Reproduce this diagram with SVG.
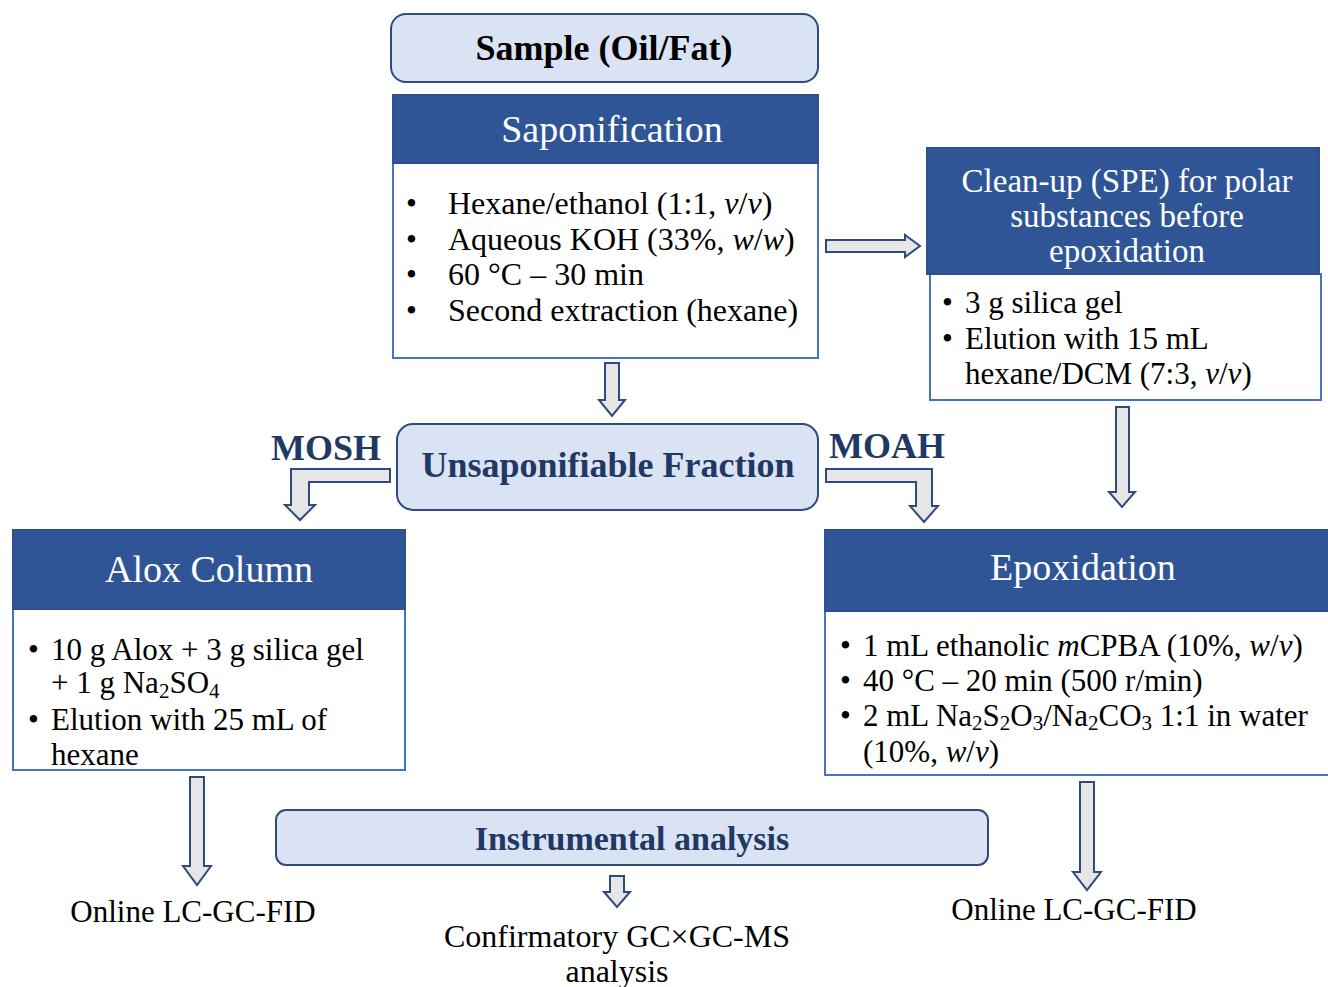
<svg xmlns="http://www.w3.org/2000/svg" width="1328" height="987" viewBox="0 0 1328 987">
<style>
.t{font-family:"Liberation Serif","Times New Roman",serif;fill:#000;font-size:31px}
.hd{font-family:"Liberation Serif","Times New Roman",serif;fill:#fff;font-size:38px;text-anchor:middle}
.hd2{font-family:"Liberation Serif","Times New Roman",serif;fill:#fff;font-size:33px;text-anchor:middle}
.nv{font-family:"Liberation Serif","Times New Roman",serif;fill:#1f3864;font-weight:bold;font-size:36px}
.hdr{fill:#2f5597;stroke:#2f528f;stroke-width:2}
.body{fill:#fff;stroke:#4472c4;stroke-width:2}
.lt{fill:#dae3f3;stroke:#2f4b7c;stroke-width:2}
.arr{fill:#e7e6e6;stroke:#2f4b7c;stroke-width:2;stroke-linejoin:miter}
.i{font-style:italic}
.sb{font-size:21px}
</style>
<rect width="1328" height="987" fill="#fff"/>
<g id="connectors">
<path class="arr" d="M605,363 H619 V400 H625 L612,416 L599,400 H605 Z"/>
<path class="arr" d="M826,240 H905 V235 L920,246 L905,257 V252 H826 Z"/>
<path class="arr" d="M1116,407 H1129 V492 H1135 L1122,507 L1109,492 H1116 Z"/>
<path class="arr" d="M390,469 V482 H309 V505 H315 L300,520 L285,505 H291 V469 Z"/>
<path class="arr" d="M826,469 H932 V506 H938 L924,522 L910,506 H916 V482 H826 Z"/>
<path class="arr" d="M190,777 H204 V866 H211 L197,885 L183,866 H190 Z"/>
<path class="arr" d="M1080,782 H1094 V872 H1101 L1087,890 L1073,872 H1080 Z"/>
<path class="arr" d="M610,876 H624 V892 H630 L617,907 L604,892 H610 Z"/>
</g>
<g id="sample">
<rect class="lt" x="391" y="14" width="427" height="68" rx="15"/>
<text class="t" x="604" y="60" text-anchor="middle" style="font-weight:bold;font-size:36px">Sample (Oil/Fat)</text>
</g>
<g id="saponification">
<rect class="body" x="393" y="163" width="425" height="195"/>
<rect class="hdr" x="393" y="95" width="425" height="68"/>
<text class="hd" x="612" y="142">Saponification</text>
<text class="t" x="406" y="214">•</text><text class="t" x="448" y="214" style="font-size:32px">Hexane/ethanol (1:1, <tspan class="i">v</tspan>/<tspan class="i">v</tspan>)</text>
<text class="t" x="406" y="250">•</text><text class="t" x="448" y="250" style="font-size:32px">Aqueous KOH (33%, <tspan class="i">w</tspan>/<tspan class="i">w</tspan>)</text>
<text class="t" x="406" y="285">•</text><text class="t" x="448" y="285" style="font-size:32px">60 °C – 30 min</text>
<text class="t" x="406" y="321">•</text><text class="t" x="448" y="321" style="font-size:32px">Second extraction (hexane)</text>
</g>
<g id="cleanup">
<rect class="body" x="930" y="274" width="391" height="126"/>
<rect class="hdr" x="927" y="148" width="392" height="126"/>
<text class="hd2" x="1127" y="192">Clean-up (SPE) for polar</text>
<text class="hd2" x="1127" y="227">substances before</text>
<text class="hd2" x="1127" y="262">epoxidation</text>
<text class="t" x="942" y="313">•</text><text class="t" x="965" y="313">3 g silica gel</text>
<text class="t" x="942" y="349">•</text><text class="t" x="965" y="349">Elution with 15 mL</text>
<text class="t" x="965" y="384">hexane/DCM (7:3, <tspan class="i">v</tspan>/<tspan class="i">v</tspan>)</text>
</g>
<g id="unsaponifiable">
<rect class="lt" x="397" y="424" width="421" height="86" rx="16"/>
<text class="nv" x="608" y="477" text-anchor="middle">Unsaponifiable Fraction</text>
</g>
<g id="mosh"><text class="nv" x="326" y="460" text-anchor="middle">MOSH</text></g>
<g id="moah"><text class="nv" x="887" y="458" text-anchor="middle">MOAH</text></g>
<g id="alox">
<rect class="body" x="13" y="609" width="392" height="161"/>
<rect class="hdr" x="13" y="530" width="392" height="79"/>
<text class="hd" x="209" y="582">Alox Column</text>
<text class="t" x="28" y="660">•</text><text class="t" x="51" y="660">10 g Alox + 3 g silica gel</text>
<text class="t" x="51" y="693">+ 1 g Na<tspan dy="5" class="sb">2</tspan><tspan dy="-5">SO</tspan><tspan dy="5" class="sb">4</tspan></text>
<text class="t" x="28" y="730">•</text><text class="t" x="51" y="730">Elution with 25 mL of</text>
<text class="t" x="51" y="765">hexane</text>
</g>
<g id="epoxidation">
<rect class="body" x="825" y="611" width="510" height="164"/>
<rect class="hdr" x="825" y="530" width="510" height="81"/>
<text class="hd" x="1083" y="580">Epoxidation</text>
<text class="t" x="840" y="656">•</text><text class="t" x="863" y="656">1 mL ethanolic <tspan class="i">m</tspan>CPBA (10%, <tspan class="i">w</tspan>/<tspan class="i">v</tspan>)</text>
<text class="t" x="840" y="691">•</text><text class="t" x="863" y="691">40 °C – 20 min (500 r/min)</text>
<text class="t" x="840" y="726">•</text><text class="t" x="863" y="726">2 mL Na<tspan dy="4" class="sb">2</tspan><tspan dy="-4">S</tspan><tspan dy="4" class="sb">2</tspan><tspan dy="-4">O</tspan><tspan dy="4" class="sb">3</tspan><tspan dy="-4">/Na</tspan><tspan dy="4" class="sb">2</tspan><tspan dy="-4">CO</tspan><tspan dy="4" class="sb">3</tspan><tspan dy="-4"> 1:1 in water</tspan></text>
<text class="t" x="863" y="762">(10%, <tspan class="i">w</tspan>/<tspan class="i">v</tspan>)</text>
</g>
<g id="instrumental">
<rect class="lt" x="276" y="810" width="712" height="55" rx="10"/>
<text class="nv" x="632" y="850" text-anchor="middle" style="font-size:34px">Instrumental analysis</text>
</g>
<g id="out-left"><text class="t" x="193" y="922" text-anchor="middle">Online LC-GC-FID</text></g>
<g id="out-mid">
<text class="t" x="617" y="947" text-anchor="middle" style="font-size:32px">Confirmatory GC×GC-MS</text>
<text class="t" x="617" y="982" text-anchor="middle" style="font-size:32px">analysis</text>
</g>
<g id="out-right"><text class="t" x="1074" y="920" text-anchor="middle">Online LC-GC-FID</text></g>
</svg>
